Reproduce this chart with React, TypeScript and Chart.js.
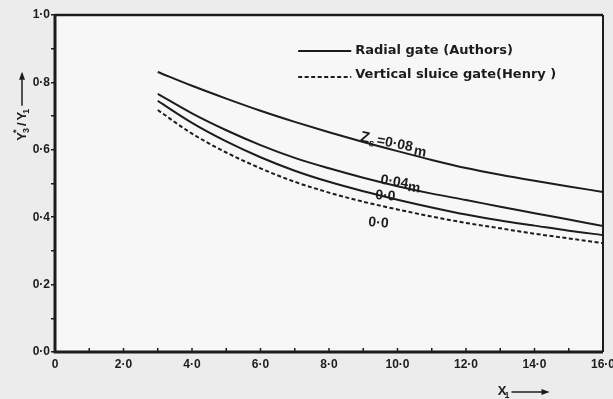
import React, { useEffect, useRef } from 'react';
import { Chart, registerables } from 'chart.js';

Chart.register(...registerables);

// ---- data ----
const x1Values = [3, 4, 5, 6, 7, 8, 9, 10, 11, 12, 13, 14, 15, 16];
const radialZs008 = [0.831, 0.79, 0.752, 0.716, 0.683, 0.652, 0.623, 0.596, 0.57, 0.546, 0.526, 0.508, 0.491, 0.475];
const radialZs004 = [0.766, 0.708, 0.658, 0.614, 0.576, 0.545, 0.517, 0.492, 0.47, 0.451, 0.431, 0.412, 0.393, 0.374];
const radialZs000 = [0.745, 0.68, 0.625, 0.578, 0.538, 0.505, 0.477, 0.452, 0.429, 0.408, 0.39, 0.375, 0.36, 0.347];
const henryZs000 = [0.718, 0.648, 0.592, 0.545, 0.505, 0.473, 0.446, 0.423, 0.402, 0.383, 0.367, 0.351, 0.337, 0.323];

const xTickLabels = ['0', '2·0', '4·0', '6·0', '8·0', '10·0', '12·0', '14·0', '16·0'];
const yTickLabels = ['0·0', '0·2', '0·4', '0·6', '0·8', '1·0'];
const legendLabels = ['Radial gate (Authors)', 'Vertical sluice gate(Henry )'];

const INK = '#1c1c1c';
const FONT = "'Liberation Sans', Arial, sans-serif";
const LEGEND_FONT = "'DejaVu Sans', sans-serif";

const toPts = (ys: number[]) => x1Values.map((x, i) => ({ x, y: ys[i] }));

const decor = {
  id: 'decor',
  beforeDraw(chart: any) {
    const { ctx, chartArea: a, width, height } = chart;
    ctx.save();
    ctx.fillStyle = '#ececec';
    ctx.fillRect(0, 0, width, height);
    ctx.fillStyle = '#f7f7f7';
    ctx.fillRect(a.left, a.top, a.right - a.left, a.bottom - a.top);
    ctx.restore();
  },
  afterDraw(chart: any) {
    const { ctx, chartArea: a } = chart;
    const xs = chart.scales.x;
    const ys = chart.scales.y;
    ctx.save();
    ctx.strokeStyle = INK;
    ctx.fillStyle = INK;
    ctx.lineCap = 'butt';

    // frame
    ctx.lineWidth = 3;
    ctx.beginPath();
    ctx.moveTo(a.left, a.top);
    ctx.lineTo(a.left, a.bottom);
    ctx.lineTo(a.right, a.bottom);
    ctx.stroke();
    ctx.lineWidth = 2.5;
    ctx.beginPath();
    ctx.moveTo(a.left, a.top);
    ctx.lineTo(a.right, a.top);
    ctx.stroke();
    ctx.lineWidth = 2;
    ctx.beginPath();
    ctx.moveTo(a.right, a.top);
    ctx.lineTo(a.right, a.bottom);
    ctx.stroke();

    // x ticks pointing inside
    ctx.lineWidth = 1.5;
    for (let v = 1; v < 16; v++) {
      const px = xs.getPixelForValue(v);
      ctx.beginPath();
      ctx.moveTo(px, a.bottom);
      ctx.lineTo(px, a.bottom - 4);
      ctx.stroke();
    }

    // legend
    const lx0 = xs.getPixelForValue(7.1);
    const lx1 = xs.getPixelForValue(8.65);
    const ly0 = ys.getPixelForValue(0.893);
    const ly1 = ys.getPixelForValue(0.816);
    ctx.lineWidth = 2;
    ctx.beginPath();
    ctx.moveTo(lx0, ly0);
    ctx.lineTo(lx1, ly0);
    ctx.stroke();
    ctx.setLineDash([4, 2.5]);
    ctx.beginPath();
    ctx.moveTo(lx0, ly1);
    ctx.lineTo(lx1, ly1);
    ctx.stroke();
    ctx.setLineDash([]);
    ctx.font = `bold 13px ${LEGEND_FONT}`;
    ctx.textBaseline = 'middle';
    ctx.textAlign = 'left';
    ctx.fillText(legendLabels[0], lx1 + 4, ly0);
    ctx.fillText(legendLabels[1], lx1 + 4, ly1 - 2);

    // curve labels
    const label = (x1: number, v: number, deg: number, draw: () => void) => {
      ctx.save();
      ctx.translate(xs.getPixelForValue(x1), ys.getPixelForValue(v));
      ctx.rotate((deg * Math.PI) / 180);
      ctx.textBaseline = 'alphabetic';
      ctx.textAlign = 'left';
      draw();
      ctx.restore();
    };
    label(8.9, 0.626, 11, () => {
      ctx.font = `bold 15px ${FONT}`;
      ctx.fillText('Z', 0, 0);
      let w = ctx.measureText('Z').width;
      ctx.font = `bold 10px ${FONT}`;
      ctx.fillText('s', w, 3);
      w += ctx.measureText('s').width + 2;
      ctx.font = `bold 14px ${FONT}`;
      ctx.fillText('=0·08', w, 0);
      w += ctx.measureText('=0·08').width + 2;
      ctx.fillText('m', w, 3);
    });
    label(9.49, 0.5, 9, () => {
      ctx.font = `bold 14px ${FONT}`;
      ctx.fillText('0·04', 0, 0);
      const w = ctx.measureText('0·04').width;
      ctx.fillText('m', w, 3);
    });
    label(9.34, 0.454, 5, () => {
      ctx.font = `bold 14px ${FONT}`;
      ctx.fillText('0·0', 0, 0);
    });
    label(9.14, 0.374, 5, () => {
      ctx.font = `bold 14px ${FONT}`;
      ctx.fillText('0·0', 0, 0);
    });

    // x axis title  X1 ---->
    const tx = xs.getPixelForValue(12.93);
    const ty = a.bottom + 43;
    ctx.textBaseline = 'alphabetic';
    ctx.textAlign = 'left';
    ctx.font = `bold 13px ${FONT}`;
    ctx.fillText('X', tx, ty);
    const xw = ctx.measureText('X').width;
    ctx.font = `bold 9px ${FONT}`;
    ctx.fillText('1', tx + xw - 2, ty + 3);
    ctx.lineWidth = 1.5;
    const ay = ty - 3;
    const as = tx + xw + 5;
    const ae = as + 36;
    ctx.beginPath();
    ctx.moveTo(as, ay);
    ctx.lineTo(ae, ay);
    ctx.stroke();
    ctx.beginPath();
    ctx.moveTo(ae + 2, ay);
    ctx.lineTo(ae - 6, ay - 3);
    ctx.lineTo(ae - 6, ay + 3);
    ctx.closePath();
    ctx.fill();

    // y axis title  Y3*/ Y1 ---->  (rotated, reading upward)
    ctx.save();
    ctx.translate(a.left - 29, ys.getPixelForValue(0.627));
    ctx.rotate(-Math.PI / 2);
    ctx.font = `bold 13px ${FONT}`;
    ctx.fillText('Y', 0, 0);
    let w = ctx.measureText('Y').width;
    ctx.font = `bold 9px ${FONT}`;
    ctx.fillText('*', w - 1, -7);
    ctx.fillText('3', w - 1, 3);
    w += ctx.measureText('3').width;
    ctx.font = `bold 13px ${FONT}`;
    ctx.fillText('/', w + 1, 0);
    w += ctx.measureText('/').width + 3;
    ctx.fillText('Y', w, 0);
    w += ctx.measureText('Y').width;
    ctx.font = `bold 9px ${FONT}`;
    ctx.fillText('1', w - 2, 3);
    w += 6;
    ctx.lineWidth = 1.5;
    const yy = -4;
    const ye = w + 32;
    ctx.beginPath();
    ctx.moveTo(w, yy);
    ctx.lineTo(ye, yy);
    ctx.stroke();
    ctx.beginPath();
    ctx.moveTo(ye + 2, yy);
    ctx.lineTo(ye - 6, yy - 3);
    ctx.lineTo(ye - 6, yy + 3);
    ctx.closePath();
    ctx.fill();
    ctx.restore();

    ctx.restore();
  },
};

export default function App() {
  const ref = useRef<HTMLCanvasElement>(null);
  useEffect(() => {
    if (!ref.current) return;
    const chart = new Chart(ref.current, {
      type: 'line',
      data: {
        datasets: [
          { data: toPts(radialZs008), borderColor: INK, borderWidth: 2 },
          { data: toPts(radialZs004), borderColor: INK, borderWidth: 2 },
          { data: toPts(radialZs000), borderColor: INK, borderWidth: 2 },
          { data: toPts(henryZs000), borderColor: INK, borderWidth: 2, borderDash: [4, 2.5] },
        ],
      },
      options: {
        animation: false,
        responsive: false,
        layout: { padding: { left: 0, top: 15, right: 10, bottom: 0 } },
        plugins: { legend: { display: false }, tooltip: { enabled: false } },
        elements: { point: { radius: 0 }, line: { cubicInterpolationMode: 'monotone' } },
        scales: {
          x: {
            type: 'linear',
            min: 0,
            max: 16,
            afterFit(s: any) {
              s.height = 47;
              s.paddingLeft = 0;
              s.paddingRight = 0;
            },
            grid: { display: false, drawTicks: false },
            border: { display: false },
            ticks: {
              stepSize: 1,
              autoSkip: false,
              maxRotation: 0,
              padding: 5,
              color: INK,
              font: { family: FONT, size: 12, weight: 'bold' },
              callback: (v: any) => (Number(v) % 2 === 0 ? xTickLabels[Number(v) / 2] : ''),
            },
          },
          y: {
            min: 0,
            max: 1,
            afterFit(s: any) {
              s.width = 55;
              s.paddingTop = 0;
              s.paddingBottom = 0;
            },
            grid: { display: true, drawOnChartArea: false, drawTicks: true, tickLength: 4, color: INK, lineWidth: 1.5 },
            border: { display: false },
            ticks: {
              stepSize: 0.1,
              autoSkip: false,
              padding: 1,
              color: INK,
              font: { family: FONT, size: 12, weight: 'bold' },
              callback: (v: any) => {
                const k = Math.round(Number(v) * 10);
                return k % 2 === 0 ? yTickLabels[k / 2] : '';
              },
            },
          },
        },
      },
      plugins: [decor],
    } as any);
    return () => chart.destroy();
  }, []);
  return (
    <div style={{ position: 'fixed', left: 0, top: 0, width: 613, height: 399 }}>
      <canvas ref={ref} width={613} height={399} />
    </div>
  );
}
